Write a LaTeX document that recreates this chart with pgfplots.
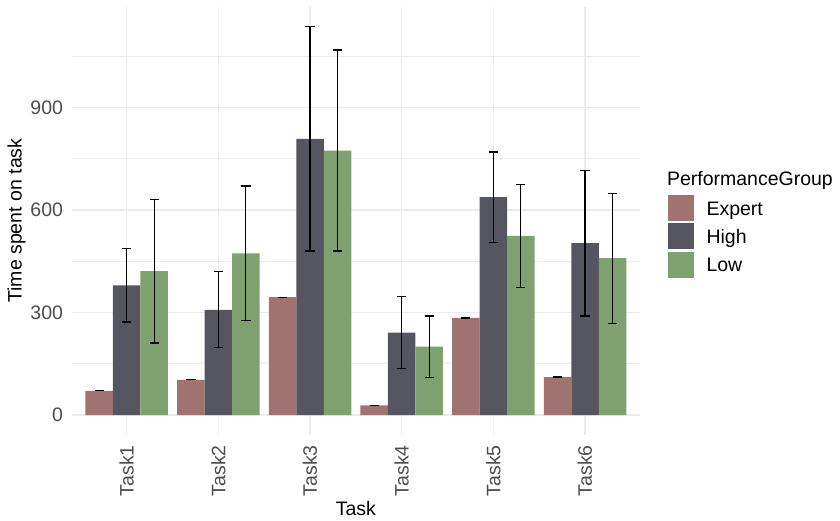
\documentclass[border=0pt]{standalone}
\usepackage{pgfplots}
\pgfplotsset{compat=1.18}
\usepackage{pgfplotstable}
\usepackage{fontspec}
\setmainfont{Liberation Sans}
\newcommand{\chartfont}{\fontsize{19.5bp}{23bp}\selectfont}

\definecolor{expertcol}{RGB}{160,114,112}
\definecolor{highcol}{RGB}{86,86,97}
\definecolor{lowcol}{RGB}{127,160,111}
\definecolor{gridcol}{RGB}{235,235,235}
\definecolor{tickcol}{RGB}{77,77,77}

% mean time per task and standard error, one table per performance group;
% x is the bar centre (task i at i, groups dodged by 0.3)
\pgfplotstableread{
x mean err
0.7 71 0
1.7 103 0
2.7 345 0
3.7 28 0
4.7 284 0
5.7 111 0
}\expert
\pgfplotstableread{
x mean err
1 379.5 107.5
2 308 111
3 808.5 328.5
4 241.5 106.5
5 637.5 132.5
6 503 213
}\high
\pgfplotstableread{
x mean err
1.3 421 210
2.3 473 197
3.3 774 294
4.3 200 90
5.3 524 151
6.3 459 190
}\low

\begin{document}
\begin{tikzpicture}
\useasboundingbox (-71.7bp,-86.5bp) rectangle (768.3bp,434.5bp);
\begin{axis}[
  width=568.3bp, height=427.8bp, scale only axis,
  clip=false,
  xmin=0.4, xmax=6.6, ymin=-57, ymax=1195,
  xtick={1,2,3,4,5,6},
  xticklabels={Task1,Task2,Task3,Task4,Task5,Task6},
  ytick={0,300,600,900},
  minor ytick={150,450,750,1050},
  xmajorgrids, ymajorgrids, yminorgrids,
  major grid style={gridcol, line width=1.1bp},
  minor grid style={gridcol, line width=0.6bp},
  axis line style={draw=none},
  major tick length=0pt, minor tick length=0pt,
  /pgf/number format/assume math mode=true,
  tick label style={font=\chartfont, text=tickcol},
  yticklabel style={inner sep=0pt, anchor=east, xshift=-8.5bp},
  xticklabel style={inner sep=0pt, yshift=-10.5bp, rotate=90, anchor=east},
  xlabel={Task}, ylabel={Time spent on task},
  label style={font=\chartfont},
  xlabel style={at={(axis description cs:0.5,-0.1882)}, anchor=base, inner sep=0pt},
  ylabel style={at={(axis description cs:-0.0968,0.5)}, anchor=center, inner sep=0pt},
  legend style={at={(axis description cs:1.0498,0.5598)}, anchor=north west,
    draw=none, fill=none, inner sep=0pt, outer sep=0pt,
    row sep=2.3bp, column sep=12.2bp, font=\chartfont,
    nodes={inner sep=0pt, anchor=base west}},
  legend cell align=left,
  legend image code/.code={\fill[#1, draw=none] (0bp,-6bp) rectangle (26bp,20bp);},
  error bars/y dir=both, error bars/y explicit,
  error bars/error bar style={black, line width=1.2bp},
  error bars/error mark options={black, rotate=90, mark size=4.65bp, line width=1.2bp},
]
\addplot[ybar, bar width=0.3, bar shift=0, fill=expertcol, draw=none]
  table[x=x, y=mean, y error=err] {\expert};
\addlegendentry{Expert}
\addplot[ybar, bar width=0.3, bar shift=0, fill=highcol, draw=none]
  table[x=x, y=mean, y error=err] {\high};
\addlegendentry{High}
\addplot[ybar, bar width=0.3, bar shift=0, fill=lowcol, draw=none]
  table[x=x, y=mean, y error=err] {\low};
\addlegendentry{Low}
\node[anchor=base west, inner sep=0pt, font=\chartfont]
  at (axis description cs:1.0472,0.5832) {PerformanceGroup};
\end{axis}
\end{tikzpicture}
\end{document}
